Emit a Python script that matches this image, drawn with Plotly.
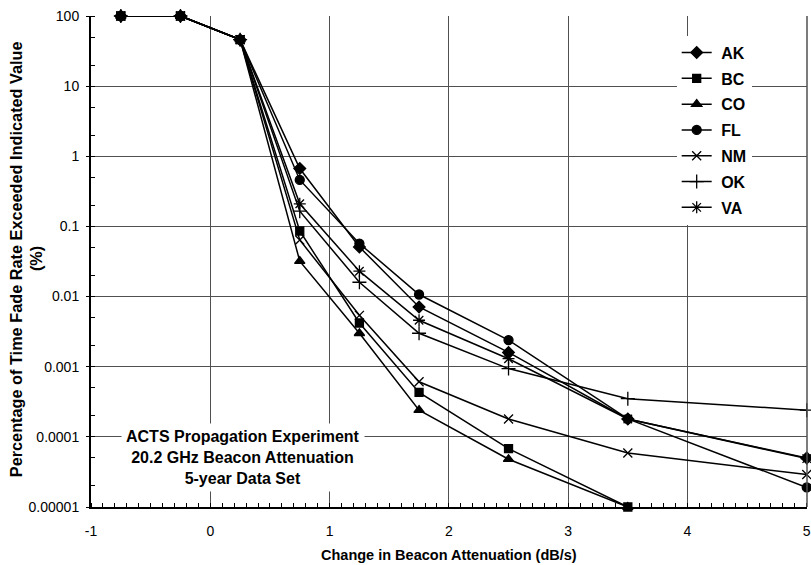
import plotly.graph_objects as go

# Change in beacon attenuation (dB/s)
x_vals = [-0.75, -0.25, 0.25, 0.75, 1.25, 1.75, 2.5, 3.5, 5]

# Percentage of time fade rate exceeded (%)
ak = [100, 100, 46, 0.67, 0.051, 0.0071, 0.0016, 0.00018, 0.00005]
bc = [100, 100, 46, 0.086, 0.0042, 0.00043, 0.000068, 0.00001, None]
co = [100, 100, 46, 0.032, 0.0030, 0.00024, 0.000048, 0.00001, None]
fl = [100, 100, 46, 0.46, 0.057, 0.0107, 0.0024, 0.00018, 0.000019]
nm = [100, 100, 46, 0.064, 0.0054, 0.00061, 0.00018, 0.000059, 0.000029]
ok = [100, 100, 46, 0.165, 0.016, 0.0030, 0.00094, 0.00035, 0.00024]
va = [100, 100, 46, 0.21, 0.023, 0.0046, 0.0013, 0.00018, 0.000049]

series = [
    ("AK", ak, "diamond", 9),
    ("BC", bc, "square", 8),
    ("CO", co, "triangle-up", 9),
    ("FL", fl, "circle", 9),
    ("NM", nm, "x-thin-open", 9),
    ("OK", ok, "cross-thin-open", 10),
    ("VA", va, "asterisk-open", 10),
]

y_tickvals = [100, 10, 1, 0.1, 0.01, 0.001, 0.0001, 0.00001]
y_ticktext = ["100", "10", "1", "0.1", "0.01", "0.001", "0.0001", "0.00001"]
x_tickvals = [-1, 0, 1, 2, 3, 4, 5]
x_ticktext = ["-1", "0", "1", "2", "3", "4", "5"]

FONT = "Liberation Sans, Arial, sans-serif"
GRID = "#505050"

fig = go.Figure()

for name, vals, symbol, size in series:
    fig.add_trace(go.Scatter(
        x=x_vals,
        y=vals,
        mode="lines+markers",
        name=f"&nbsp;<b>{name}</b>",
        line=dict(color="black", width=1.5),
        marker=dict(symbol=symbol, size=size, color="black",
                    line=dict(color="black", width=1.3)),
        cliponaxis=False,
        legendgroup=name,
    ))

fig.update_layout(
    width=811,
    height=565,
    margin=dict(l=91, r=4, t=16, b=58),
    paper_bgcolor="white",
    plot_bgcolor="white",
    font=dict(family=FONT, size=14, color="black"),
    showlegend=True,
    legend=dict(
        x=0.818, y=0.960,
        xanchor="left", yanchor="top",
        bgcolor="white",
        borderwidth=0,
        font=dict(family=FONT, size=16, color="black"),
        traceorder="grouped",
        tracegroupgap=2,
        itemwidth=30,
    ),
    xaxis=dict(
        range=[-1, 5.002],
        tickvals=x_tickvals,
        ticktext=x_ticktext,
        ticks="",
        automargin=False,
        ticklabeloverflow="allow",
        showgrid=True,
        gridcolor=GRID,
        gridwidth=1,
        zeroline=False,
        showline=True,
        linecolor="black",
        linewidth=2,
        tickfont=dict(size=14),
        ticklabelstandoff=10,
        minor=dict(dtick=0.1, ticks="inside", ticklen=4, tickcolor="black",
                   showgrid=False),
    ),
    yaxis=dict(
        type="log",
        range=[-5, 2],
        tickvals=y_tickvals,
        ticktext=y_ticktext,
        ticks="outside",
        ticklen=3,
        tickcolor="black",
        automargin=False,
        ticklabeloverflow="allow",
        showgrid=True,
        gridcolor=GRID,
        gridwidth=1,
        zeroline=False,
        showline=True,
        linecolor="black",
        linewidth=2,
        tickfont=dict(size=14),
        ticklabelstandoff=4,
        minor=dict(ticks="inside", ticklen=4, tickcolor="black", showgrid=False),
    ),
)

# right border of the plot area
fig.add_shape(type="line", xref="paper", yref="paper", x0=1, x1=1, y0=0, y1=1,
              line=dict(color=GRID, width=1.5))

# axis titles
fig.add_annotation(
    x=0.5, y=-0.098, xref="paper", yref="paper",
    text="<b>Change in Beacon Attenuation (dB/s)</b>",
    showarrow=False, xanchor="center", yanchor="middle",
    font=dict(family=FONT, size=14.5, color="black"),
)
fig.add_annotation(
    x=-0.1045, y=0.505, xref="paper", yref="paper",
    text="<b>Percentage of Time Fade Rate Exceeded Indicated Value</b>",
    textangle=-90,
    showarrow=False, xanchor="center", yanchor="middle",
    font=dict(family=FONT, size=16.3, color="black"),
)
fig.add_annotation(
    x=-0.0768, y=0.505, xref="paper", yref="paper",
    text="<b>(%)</b>",
    textangle=-90,
    showarrow=False, xanchor="center", yanchor="middle",
    font=dict(family=FONT, size=16.3, color="black"),
)

fig.add_annotation(
    x=0.27, y=-4.3,
    xref="x", yref="y",
    text="<b>ACTS Propagation Experiment<br>20.2 GHz Beacon Attenuation<br>5-year Data Set</b>",
    showarrow=False,
    align="center",
    bgcolor="white",
    borderpad=4,
    font=dict(family=FONT, size=16, color="black"),
)

# drop the default page margin so the figure fills the window exactly
fig.write_html(
    "out.html",
    config={"displayModeBar": False},
    post_script="document.body.style.margin='0';document.body.style.overflow='hidden';",
)
